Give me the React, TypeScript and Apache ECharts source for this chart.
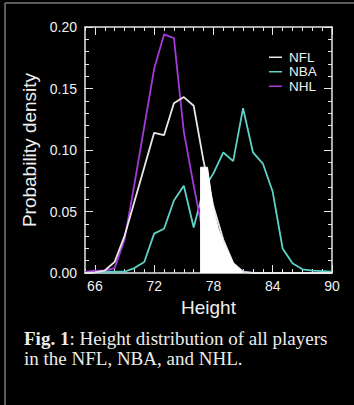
import React, { useEffect, useRef } from "react";
import * as echarts from "echarts";

// Heights (inches) on the x axis
const heights = [65, 66, 67, 68, 69, 70, 71, 72, 73, 74, 75, 76, 77, 78, 79, 80, 81, 82, 83, 84, 85, 86, 87, 88, 89, 90];

// Probability densities
const nflDensity = [0.0, 0.0005, 0.002, 0.009, 0.030, 0.058, 0.086, 0.114, 0.112, 0.138, 0.143, 0.136, 0.091, 0.054, 0.027, 0.008, 0.001, 0, 0, 0, 0, 0, 0, 0, 0, 0];
const nbaDensity = [0.0005, 0.0005, 0.001, 0.001, 0.001, 0.004, 0.009, 0.032, 0.036, 0.059, 0.071, 0.037, 0.068, 0.081, 0.098, 0.091, 0.134, 0.098, 0.089, 0.066, 0.020, 0.008, 0.003, 0.002, 0.0015, 0.001];
const nhlDensity = [0.001, 0.002, 0.002, 0.004, 0.027, 0.072, 0.119, 0.166, 0.194, 0.191, 0.115, 0.071, 0.030, 0.012, 0.005, 0.002, 0.001, 0, 0, 0, 0, 0, 0, 0, 0, 0];

// White filled patch under the NFL tail (as it appears in the figure)
const nflTailHeights = [76.7, 76.7, 77.4, 78, 78.5, 79, 80, 81];
const nflTailDensity = [0, 0.086, 0.086, 0.052, 0.036, 0.025, 0.008, 0.0];

// Tick labels
const xLabelValues = [66, 72, 78, 84, 90];
const seriesNames = ["NFL", "NBA", "NHL"];
const seriesColors = ["#e8e8e8", "#5fd2c8", "#a53ad8"];

const caption1 = "{b|Fig. 1}: Height distribution of all players";
const caption2 = "in the NFL, NBA, and NHL.";

export default function App() {
  const ref = useRef<HTMLDivElement>(null);

  useEffect(() => {
    document.body.style.margin = "0";
    document.body.style.background = "#000";
    if (!ref.current) return;
    const chart = echarts.init(ref.current, null, { renderer: "svg" });

    const axisColor = "#e6e6e6";
    const sans = "Liberation Sans, Arial, Helvetica, sans-serif";
    const serif = "Liberation Serif, Times New Roman, serif";
    const pair = (xs: number[], ys: number[]) => xs.map((x, i) => [x, ys[i]]);
    const values = [nflDensity, nbaDensity, nhlDensity];

    const xCommon = {
      type: "value" as const,
      min: 65,
      max: 90,
      gridIndex: 0,
      splitLine: { show: false },
    };
    const yCommon = {
      type: "value" as const,
      min: 0,
      max: 0.2,
      interval: 0.05,
      gridIndex: 0,
      splitLine: { show: false },
      minorSplitLine: { show: false },
    };

    chart.setOption({
      animation: false,
      backgroundColor: "#000",
      grid: { left: 85, right: 22, top: 27, bottom: 132, containLabel: false },
      legend: {
        data: seriesNames.map((n) => ({ name: n, icon: "rect" })),
        orient: "vertical",
        left: 264,
        top: 45,
        itemWidth: 13,
        itemHeight: 1.5,
        itemGap: 0,
        textStyle: { color: "#f0f0f0", fontSize: 13.5, lineHeight: 14.5, fontFamily: sans, padding: [0, 0, 0, 2] },
      },
      xAxis: [
        {
          ...xCommon,
          position: "bottom",
          interval: 1,
          axisLine: { show: true, onZero: false, lineStyle: { color: axisColor, width: 1.5 } },
          axisTick: { show: true, inside: true, length: 4, lineStyle: { color: axisColor, width: 1 } },
          axisLabel: { customValues: xLabelValues, color: "#f0f0f0", fontSize: 14, fontFamily: sans, margin: 6 },
          name: "Height",
          nameLocation: "middle",
          nameGap: 22,
          nameTextStyle: { color: "#f0f0f0", fontSize: 19, fontFamily: sans },
        },
        {
          ...xCommon,
          position: "bottom",
          axisLine: { show: false, onZero: false },
          axisTick: { show: true, inside: true, length: 8, customValues: xLabelValues, lineStyle: { color: axisColor, width: 1 } },
          axisLabel: { show: false },
        },
        {
          ...xCommon,
          position: "top",
          interval: 1,
          axisLine: { show: true, onZero: false, lineStyle: { color: axisColor, width: 1.5 } },
          axisTick: { show: true, inside: true, length: 4, lineStyle: { color: axisColor, width: 1 } },
          axisLabel: { show: false },
        },
        {
          ...xCommon,
          position: "top",
          axisLine: { show: false, onZero: false },
          axisTick: { show: true, inside: true, length: 8, customValues: xLabelValues, lineStyle: { color: axisColor, width: 1 } },
          axisLabel: { show: false },
        },
      ],
      yAxis: [
        {
          ...yCommon,
          position: "left",
          axisLine: { show: true, onZero: false, lineStyle: { color: axisColor, width: 1.5 } },
          axisTick: { show: true, inside: true, length: 8, lineStyle: { color: axisColor, width: 1 } },
          minorTick: { show: true, splitNumber: 5, length: 4, lineStyle: { color: axisColor, width: 1 } },
          axisLabel: {
            color: "#f0f0f0",
            fontSize: 14,
            fontFamily: sans,
            margin: 8,
            formatter: (v: number) => v.toFixed(2),
          },
          name: "Probability density",
          nameLocation: "middle",
          nameGap: 44,
          nameTextStyle: { color: "#f0f0f0", fontSize: 19, fontFamily: sans },
        },
        {
          ...yCommon,
          position: "right",
          axisLine: { show: true, onZero: false, lineStyle: { color: axisColor, width: 1.5 } },
          axisTick: { show: true, inside: true, length: 8, lineStyle: { color: axisColor, width: 1 } },
          minorTick: { show: true, splitNumber: 5, length: 4, lineStyle: { color: axisColor, width: 1 } },
          axisLabel: { show: false },
        },
      ],
      series: [
        ...seriesNames.map((name, i) => ({
          name,
          type: "line",
          xAxisIndex: 0,
          yAxisIndex: 0,
          data: pair(heights, values[i]),
          symbol: "none",
          lineStyle: { color: seriesColors[i], width: 1.8 },
          itemStyle: { color: seriesColors[i] },
          z: 2 + (i === 0 ? 1 : 0),
        })),
        {
          name: "NFL tail",
          type: "line",
          xAxisIndex: 0,
          yAxisIndex: 0,
          data: pair(nflTailHeights, nflTailDensity),
          symbol: "none",
          lineStyle: { color: "#ffffff", width: 1 },
          areaStyle: { color: "#ffffff", opacity: 1 },
          z: 5,
        },
      ],
      graphic: [
        { type: "line", shape: { x1: 5, y1: 3, x2: 354, y2: 3 }, style: { stroke: "#7a7a7a", lineWidth: 1.5 } },
        { type: "line", shape: { x1: 5, y1: 3, x2: 5, y2: 405 }, style: { stroke: "#7a7a7a", lineWidth: 1.5 } },
        {
          type: "text",
          left: 24,
          top: 328,
          style: {
            text: caption1 + "\n" + caption2,
            fill: "#ececec",
            fontSize: 19,
            fontFamily: serif,
            lineHeight: 20,
            rich: {
              b: { fontWeight: "bold", fontSize: 19, lineHeight: 20, fill: "#ececec", fontFamily: serif },
            },
          },
        },
      ],
    });

    return () => chart.dispose();
  }, []);

  return (
    <div
      ref={ref}
      style={{ position: "absolute", left: 0, top: 0, width: 354, height: 405, background: "#000" }}
    />
  );
}
